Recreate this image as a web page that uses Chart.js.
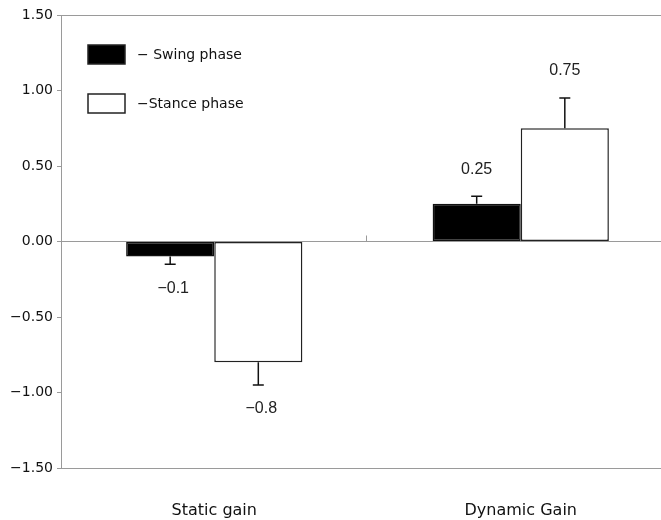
<!DOCTYPE html>
<html>
<head>
<meta charset="utf-8">
<script src="https://cdn.jsdelivr.net/npm/chart.js@4"></script>
<style>
  html, body { margin: 0; padding: 0; overflow: hidden; background: #fff; }
  #wrap { width: 674px; height: 520px; position: relative; }
</style>
</head>
<body>
<div id="wrap"><canvas id="c"></canvas></div>
<script>
// Gain per gait phase, with standard deviation
const categories = ['Static gain', 'Dynamic Gain'];
const seriesNames = ['− Swing phase', '−Stance phase'];
const swingValues = [-0.1, 0.25];
const stanceValues = [-0.8, 0.75];
const swingErrors = [0.05, 0.05];
const stanceErrors = [0.15, 0.2];
const yTicks = [-1.5, -1.0, -0.5, 0, 0.5, 1.0, 1.5];

const AXIS_GREY = '#9a9a9a';
const TICK_FONT = 'DejaVu Sans';
const VALUE_FONT = 'Liberation Sans';

function signed(v, digits) {
  const s = digits === undefined ? String(Math.abs(v)) : Math.abs(v).toFixed(digits);
  return (v < 0 ? '−' : '') + s;
}

// Error bars (one-sided, outward) and value labels beyond them
const errorBarPlugin = {
  id: 'errorBars',
  afterDatasetsDraw(chart) {
    const { ctx } = chart;
    const y = chart.scales.y;
    chart.data.datasets.forEach((ds, di) => {
      const meta = chart.getDatasetMeta(di);
      meta.data.forEach((bar, i) => {
        const v = ds.data[i];
        const e = ds.errors[i];
        const dir = v < 0 ? -1 : 1;
        const yEnd = y.getPixelForValue(v + dir * e);
        ctx.save();
        ctx.strokeStyle = '#111';
        ctx.lineWidth = 1.5;
        ctx.beginPath();
        ctx.moveTo(bar.x, bar.y);
        ctx.lineTo(bar.x, yEnd);
        ctx.moveTo(bar.x - 5.5, yEnd);
        ctx.lineTo(bar.x + 5.5, yEnd);
        ctx.stroke();
        ctx.fillStyle = '#222';
        ctx.font = '16px "' + VALUE_FONT + '"';
        ctx.textAlign = 'center';
        ctx.textBaseline = 'middle';
        ctx.fillText(signed(v), bar.x + (dir < 0 ? 3 : 0), yEnd - dir * (dir > 0 ? 27 : 24));
        ctx.restore();
      });
    });
  }
};

// Short divider mark between the two categories, on the zero line
const dividerPlugin = {
  id: 'divider',
  afterDatasetsDraw(chart) {
    const { ctx } = chart;
    const x = chart.scales.x;
    const y = chart.scales.y;
    const px = (x.getPixelForValue(0) + x.getPixelForValue(1)) / 2 - 2;
    const py = y.getPixelForValue(0);
    ctx.save();
    ctx.strokeStyle = AXIS_GREY;
    ctx.lineWidth = 1;
    ctx.beginPath();
    ctx.moveTo(Math.round(px) + 0.5, py);
    ctx.lineTo(Math.round(px) + 0.5, py - 6);
    ctx.stroke();
    ctx.restore();
  }
};

// Legend boxes inside the plot, upper left
const innerLegendPlugin = {
  id: 'innerLegend',
  afterDraw(chart) {
    const { ctx, chartArea } = chart;
    const rows = [30, 79];
    ctx.save();
    chart.data.datasets.forEach((ds, i) => {
      const bx = chartArea.left + 27;
      const by = chartArea.top + rows[i];
      ctx.fillStyle = ds.backgroundColor;
      ctx.fillRect(bx, by, 37, 19);
      ctx.strokeStyle = '#222';
      ctx.lineWidth = 1.5;
      ctx.strokeRect(bx, by, 37, 19);
      ctx.fillStyle = '#111';
      ctx.font = '14px "' + TICK_FONT + '"';
      ctx.textAlign = 'left';
      ctx.textBaseline = 'middle';
      ctx.fillText(ds.label, chartArea.left + 76, by + 10);
    });
    ctx.restore();
  }
};

new Chart(document.getElementById('c'), {
  type: 'bar',
  data: {
    labels: categories,
    datasets: [
      {
        label: seriesNames[0],
        data: swingValues,
        errors: swingErrors,
        backgroundColor: '#000',
        borderColor: '#111',
        borderWidth: 1.5,
        borderSkipped: false
      },
      {
        label: seriesNames[1],
        data: stanceValues,
        errors: stanceErrors,
        backgroundColor: '#fff',
        borderColor: '#222',
        borderWidth: 1.5,
        borderSkipped: false
      }
    ]
  },
  options: {
    responsive: true,
    maintainAspectRatio: false,
    animation: false,
    layout: { padding: { top: 15, right: 0, bottom: 0, left: 0 } },
    datasets: { bar: { categoryPercentage: 0.575, barPercentage: 1.0 } },
    plugins: {
      legend: { display: false },
      tooltip: { enabled: false }
    },
    scales: {
      x: {
        grid: { display: false },
        border: { display: false },
        ticks: {
          color: '#111',
          padding: 25,
          font: { family: TICK_FONT, size: 16 }
        },
        afterFit(scale) { scale.height = 52; }
      },
      y: {
        min: -1.5,
        max: 1.5,
        afterBuildTicks(scale) { scale.ticks = yTicks.map(v => ({ value: v })); },
        grid: {
          color(c) {
            const v = c.tick && c.tick.value;
            return (v === 0 || v === 1.5 || v === -1.5) ? AXIS_GREY : 'rgba(0,0,0,0)';
          },
          tickColor: AXIS_GREY,
          tickLength: 4,
          lineWidth: 1
        },
        border: { display: true, color: AXIS_GREY, width: 1 },
        ticks: {
          color: '#111',
          padding: 4,
          font: { family: TICK_FONT, size: 14 },
          callback: (v) => signed(v, 2)
        },
        afterFit(scale) { scale.width = 61; }
      }
    }
  },
  plugins: [errorBarPlugin, dividerPlugin, innerLegendPlugin]
});
</script>
</body>
</html>
